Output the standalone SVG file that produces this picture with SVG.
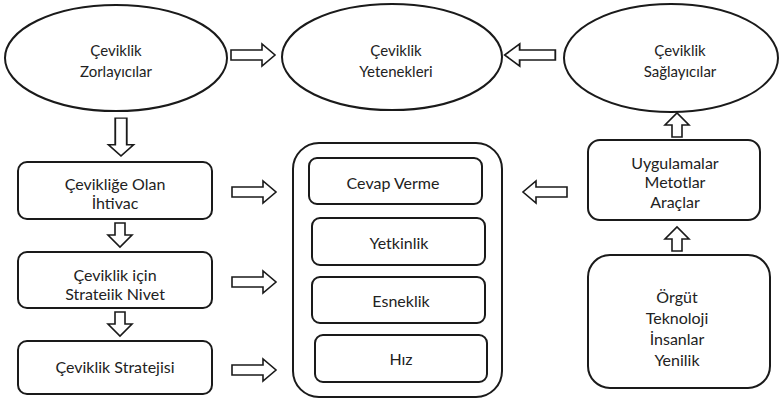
<svg xmlns="http://www.w3.org/2000/svg" xmlns:xlink="http://www.w3.org/1999/xlink" width="780" height="399" viewBox="0 0 780 399">
  <style>
    .shape { fill: #ffffff; stroke: #1a1a1a; stroke-width: 2; }
    .arrow { fill: #ffffff; stroke: #1a1a1a; stroke-width: 1.6; stroke-linejoin: miter; }
    text { font-family: Lato, "Open Sans", "Liberation Sans", sans-serif; font-size: 16px; fill: #222222; text-anchor: middle; }
    .oval text { font-size: 15px; }
  </style>
  <defs>
    <!-- hollow block arrow, centred on the origin, pointing right -->
    <path id="blk-h" d="M-22,-5 H9 V-11 L22,0 L9,11 V5 H-22 Z"/>
    <!-- shorter block arrow for the narrow vertical gaps -->
    <path id="blk-s" d="M-12,-5 H0 V-12 L12,0 L0,12 V5 H-12 Z"/>
  </defs>

  <rect width="780" height="399" fill="#ffffff"/>

  <!-- Top row ellipses -->
  <g id="zorlayicilar" class="oval">
    <ellipse class="shape" cx="116" cy="58" rx="111" ry="53"/>
    <text x="116" y="56">Çeviklik</text>
    <text x="116" y="77">Zorlayıcılar</text>
  </g>
  <g id="yetenekleri" class="oval">
    <ellipse class="shape" cx="392" cy="57" rx="110" ry="53"/>
    <text x="396" y="56">Çeviklik</text>
    <text x="396" y="77">Yetenekleri</text>
  </g>
  <g id="saglayicilar" class="oval">
    <ellipse class="shape" cx="671" cy="58" rx="107" ry="54"/>
    <text x="680" y="56">Çeviklik</text>
    <text x="680" y="77">Sağlayıcılar</text>
  </g>

  <!-- Left column -->
  <g id="ihtiyac">
    <rect class="shape" x="18" y="162" width="194" height="57" rx="9"/>
    <text x="115" y="190">Çevikliğe Olan</text>
    <text x="115" y="209">İhtivac</text>
  </g>
  <g id="stratejik-niyet">
    <rect class="shape" x="18" y="252" width="194" height="56" rx="9"/>
    <text x="115" y="281">Çeviklik için</text>
    <text x="115" y="300">Strateiik Nivet</text>
  </g>
  <g id="strateji">
    <rect class="shape" x="18" y="341" width="194" height="53" rx="9"/>
    <text x="115" y="373">Çeviklik Stratejisi</text>
  </g>

  <!-- Centre container with capabilities -->
  <g id="yetenek-grubu">
    <rect class="shape" x="293" y="143" width="209" height="254" rx="26"/>
  </g>
  <g id="cevap-verme">
    <rect class="shape" x="309" y="158" width="173" height="46" rx="8"/>
    <text x="393" y="189">Cevap Verme</text>
  </g>
  <g id="yetkinlik">
    <rect class="shape" x="312" y="218" width="173" height="47" rx="8"/>
    <text x="399" y="249">Yetkinlik</text>
  </g>
  <g id="esneklik">
    <rect class="shape" x="312" y="277" width="173" height="46" rx="8"/>
    <text x="401" y="307">Esneklik</text>
  </g>
  <g id="hiz">
    <rect class="shape" x="315" y="335" width="172" height="47" rx="8"/>
    <text x="401" y="365">Hız</text>
  </g>

  <!-- Right column -->
  <g id="uygulamalar">
    <rect class="shape" x="588" y="140" width="172" height="80" rx="12"/>
    <text x="675" y="169">Uygulamalar</text>
    <text x="675" y="188">Metotlar</text>
    <text x="675" y="208">Araçlar</text>
  </g>
  <g id="kaynaklar">
    <rect class="shape" x="588" y="255" width="182" height="133" rx="22"/>
    <text x="677" y="303">Örgüt</text>
    <text x="677" y="324">Teknoloji</text>
    <text x="677" y="345">İnsanlar</text>
    <text x="677" y="366">Yenilik</text>
  </g>

  <!-- Connectors: hollow block arrows -->
  <g id="connectors">
    <use xlink:href="#blk-h" class="arrow" transform="translate(253,55)"/>
    <use xlink:href="#blk-h" class="arrow" transform="translate(530,55) rotate(180) scale(1.15,1)"/>
    <use xlink:href="#blk-h" class="arrow" transform="translate(121,137) rotate(90) scale(0.86,1.15)"/>
    <use xlink:href="#blk-s" class="arrow" transform="translate(120,235) rotate(90)"/>
    <use xlink:href="#blk-s" class="arrow" transform="translate(120,324) rotate(90)"/>
    <use xlink:href="#blk-h" class="arrow" transform="translate(254,192)"/>
    <use xlink:href="#blk-h" class="arrow" transform="translate(254,282)"/>
    <use xlink:href="#blk-h" class="arrow" transform="translate(254,370)"/>
    <use xlink:href="#blk-h" class="arrow" transform="translate(545,192) rotate(180)"/>
    <use xlink:href="#blk-s" class="arrow" transform="translate(677,125) rotate(-90)"/>
    <use xlink:href="#blk-s" class="arrow" transform="translate(677,239) rotate(-90)"/>
  </g>
</svg>
